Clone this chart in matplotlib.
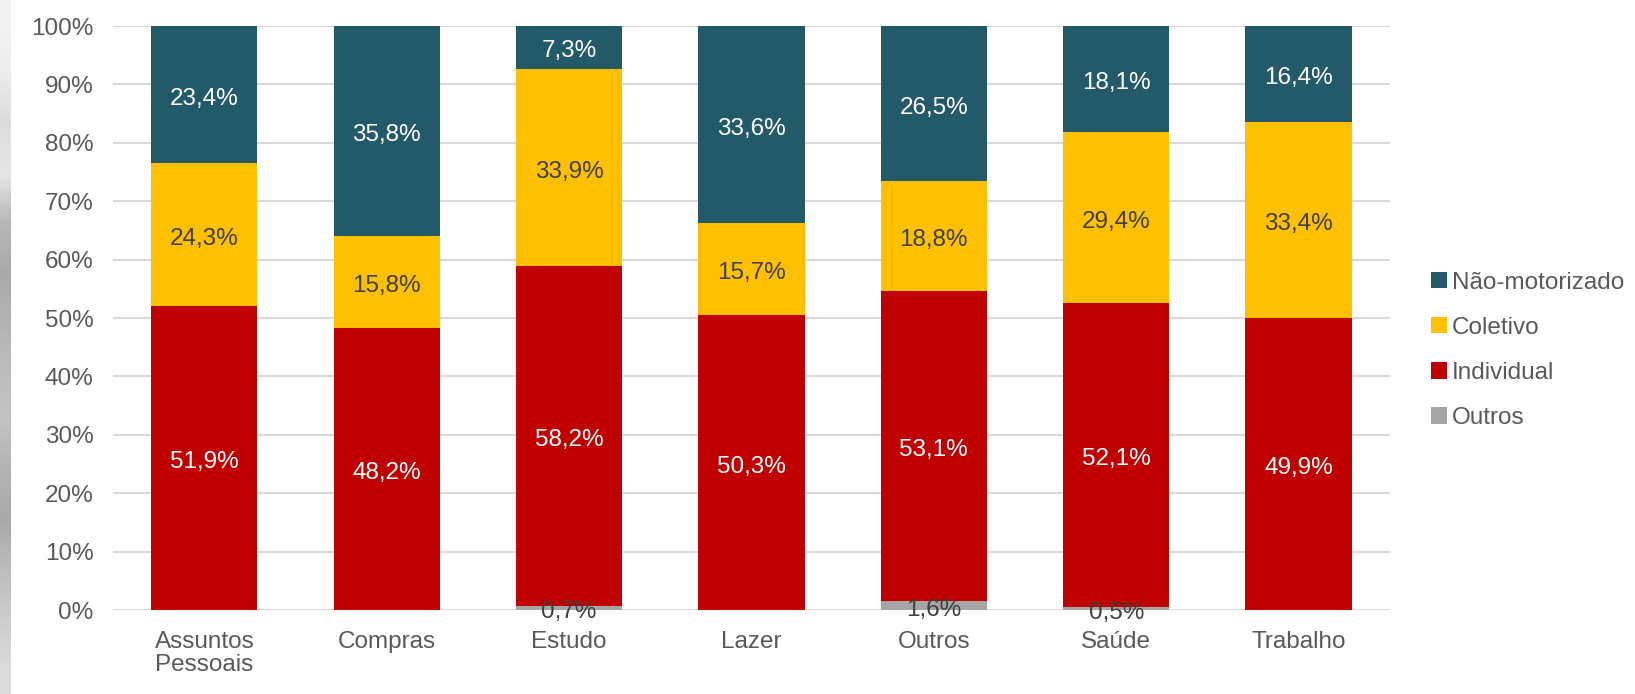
import numpy as np
import matplotlib
matplotlib.use('Agg')
import matplotlib.pyplot as plt

plt.rcParams['font.family'] = ['Liberation Sans', 'DejaVu Sans']

# dados
categorias = ['Assuntos\nPessoais', 'Compras', 'Estudo', 'Lazer', 'Outros', 'Saúde', 'Trabalho']
outros = [0.0, 0.0, 0.7, 0.0, 1.6, 0.5, 0.0]
individual = [51.9, 48.2, 58.2, 50.3, 53.1, 52.1, 49.9]
coletivo = [24.3, 15.8, 33.9, 15.7, 18.8, 29.4, 33.4]
nao_motorizado = [23.4, 35.8, 7.3, 33.6, 26.5, 18.1, 16.4]

series = [
    ('Outros', outros, '#A5A5A5', '#404040'),
    ('Individual', individual, '#C00000', 'white'),
    ('Coletivo', coletivo, '#FFC000', '#404040'),
    ('Não-motorizado', nao_motorizado, '#235A69', 'white'),
]

fig = plt.figure(figsize=(16.35, 6.94), dpi=100)
ax = fig.add_axes([0.0692, 0.121, 0.7808, 0.8415])

# faixa cinza da foto de fundo à esquerda
tons = [0.95, 0.92, 0.86, 0.90, 0.72, 0.66, 0.70, 0.74, 0.76, 0.70, 0.66, 0.74, 0.80, 0.86]
strip = fig.add_axes([0, 0, 10 / 1635, 1])
strip.imshow(np.array(tons)[:, None], cmap='gray', vmin=0, vmax=1, aspect='auto',
             interpolation='bilinear')
strip.axis('off')

x = np.arange(len(categorias))
total = np.sum([s[1] for s in series], axis=0)
base = np.zeros(len(categorias))
for nome, vals, cor, cor_txt in series:
    h = np.array(vals) / total * 100  # 100% empilhado
    ax.bar(x, h, 0.583, bottom=base, color=cor, label=nome, zorder=2)
    for i, v in enumerate(vals):
        if v > 0:
            ax.annotate(f'{v:.1f}%'.replace('.', ','), (x[i], base[i] + h[i] / 2),
                        xytext=(0, -3), textcoords='offset points',
                        ha='center', va='center', color=cor_txt, fontsize=17.5, zorder=3)
    base += h

ax.set_xlim(-0.5, len(categorias) - 0.5)
ax.set_ylim(0, 100)
ax.set_yticks(np.arange(0, 101, 10))
ax.set_yticklabels([f'{t}%' for t in range(0, 101, 10)])
ax.set_xticks(x)
ax.set_xticklabels(categorias, linespacing=1.08)
ax.tick_params(length=0, labelsize=17.5, colors='#595959')
ax.tick_params(axis='x', pad=15)
ax.tick_params(axis='y', pad=14)
ax.grid(axis='y', color='#D9D9D9', linewidth=1.5, zorder=0)
ax.set_axisbelow(True)
for s in ax.spines.values():
    s.set_visible(False)

handles, labels = ax.get_legend_handles_labels()
fig.legend(handles[::-1], labels[::-1], loc='center left', bbox_to_anchor=(0.862, 0.495),
           frameon=False, fontsize=17.5, labelcolor='#595959', handlelength=0.65,
           handleheight=0.65, handletextpad=0.2, labelspacing=0.95)

fig.savefig('out.png', dpi=100)
